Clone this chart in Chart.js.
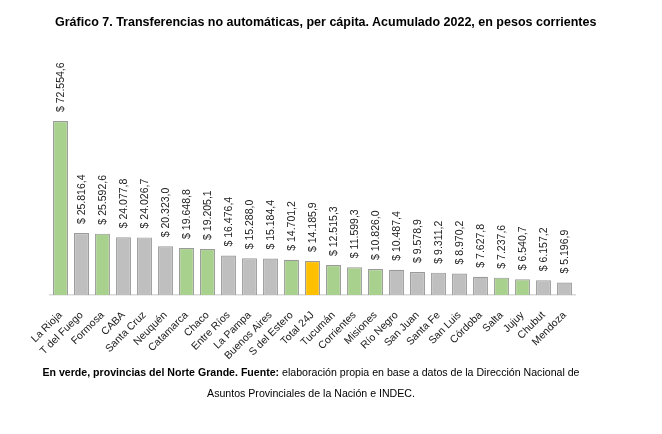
<!DOCTYPE html>
<html>
<head>
<meta charset="utf-8">
<script src="https://cdn.jsdelivr.net/npm/chart.js@4"></script>
<style>
  html, body { margin: 0; padding: 0; background: #fff; }
  body { width: 662px; height: 434px; position: relative; overflow: hidden; font-family: "Liberation Sans", Arial, sans-serif; }
  #titulo { position: absolute; left: 55px; top: 15px; font-weight: bold; font-size: 12.5px; color: #000; white-space: nowrap; }
  #nota1 { position: absolute; left: 0; width: 622px; top: 366px; text-align: center; font-size: 10.6px; color: #000; white-space: nowrap; }
  #nota2 { position: absolute; left: 0; width: 622px; top: 387px; text-align: center; font-size: 10.6px; color: #000; white-space: nowrap; }
  #grafico { position: absolute; left: 0; top: 0; }
</style>
</head>
<body>
<canvas id="grafico" width="662" height="434"></canvas>
<div id="titulo">Gráfico 7. Transferencias no automáticas, per cápita. Acumulado 2022, en pesos corrientes</div>
<div id="nota1"><b>En verde, provincias del Norte Grande. Fuente:</b> elaboración propia en base a datos de la Dirección Nacional de</div>
<div id="nota2">Asuntos Provinciales de la Nación e INDEC.</div>
<script>
// datos
const provincias = ['La Rioja', 'T del Fuego', 'Formosa', 'CABA', 'Santa Cruz', 'Neuquén', 'Catamarca', 'Chaco',
  'Entre Ríos', 'La Pampa', 'Buenos Aires', 'S del Estero', 'Total 24J', 'Tucumán', 'Corrientes', 'Misiones',
  'Río Negro', 'San Juan', 'Santa Fe', 'San Luis', 'Córdoba', 'Salta', 'Jujuy', 'Chubut', 'Mendoza'];
const valores = [72554.6, 25816.4, 25592.6, 24077.8, 24026.7, 20323.0, 19648.8, 19205.1,
  16476.4, 15288.0, 15184.4, 14701.2, 14185.9, 12515.3, 11599.3, 10826.0,
  10487.4, 9578.9, 9311.2, 8970.2, 7627.8, 7237.6, 6540.7, 6157.2, 5196.9];
// 'ng' = Norte Grande, 'tot' = total, 'otra' = resto
const grupo = ['ng', 'otra', 'ng', 'otra', 'otra', 'otra', 'ng', 'ng',
  'otra', 'otra', 'otra', 'ng', 'tot', 'ng', 'ng', 'ng',
  'otra', 'otra', 'otra', 'otra', 'otra', 'ng', 'ng', 'otra', 'otra'];

const colores = { ng: '#A9D18E', otra: '#BFBFBF', tot: '#FFC000' };

function fmtPesos(v) {
  const partes = v.toFixed(1).split('.');
  const entero = partes[0].replace(/\B(?=(\d{3})+(?!\d))/g, '.');
  return '$ ' + entero + ',' + partes[1];
}

// etiquetas verticales sobre cada barra
const etiquetas = {
  id: 'etiquetas',
  afterDatasetsDraw(chart) {
    const ctx = chart.ctx;
    const meta = chart.getDatasetMeta(0);
    ctx.save();
    ctx.font = '10.5px "Liberation Sans", Arial, sans-serif';
    ctx.fillStyle = '#1a1a1a';
    ctx.textAlign = 'left';
    ctx.textBaseline = 'middle';
    meta.data.forEach((bar, i) => {
      ctx.save();
      ctx.translate(bar.x + 1, bar.y - 9);
      ctx.rotate(-Math.PI / 2);
      ctx.fillText(fmtPesos(valores[i]), 0, 0);
      ctx.restore();
    });
    ctx.restore();
  }
};

new Chart(document.getElementById('grafico'), {
  type: 'bar',
  data: {
    labels: provincias,
    datasets: [{
      data: valores,
      backgroundColor: grupo.map(g => colores[g]),
      borderColor: '#9a9a9a',
      borderWidth: 1.2,
      borderSkipped: 'bottom',
      barPercentage: 0.71,
      categoryPercentage: 1
    }]
  },
  options: {
    responsive: false,
    animation: false,
    devicePixelRatio: 1,
    layout: { padding: { left: 50, right: 87, top: 60, bottom: 64 } },
    plugins: { legend: { display: false }, tooltip: { enabled: false } },
    scales: {
      x: {
        grid: { display: false },
        border: { display: true, color: '#d9d9d9', width: 1.5 },
        ticks: {
          minRotation: 45, maxRotation: 45, autoSkip: false,
          color: '#1a1a1a', padding: 6,
          font: { family: '"Liberation Sans", Arial, sans-serif', size: 10.5 }
        },
        afterFit(scale) { scale.height = 75; }
      },
      y: { display: false, min: 0, max: 98000 }
    }
  },
  plugins: [etiquetas]
});
</script>
</body>
</html>
